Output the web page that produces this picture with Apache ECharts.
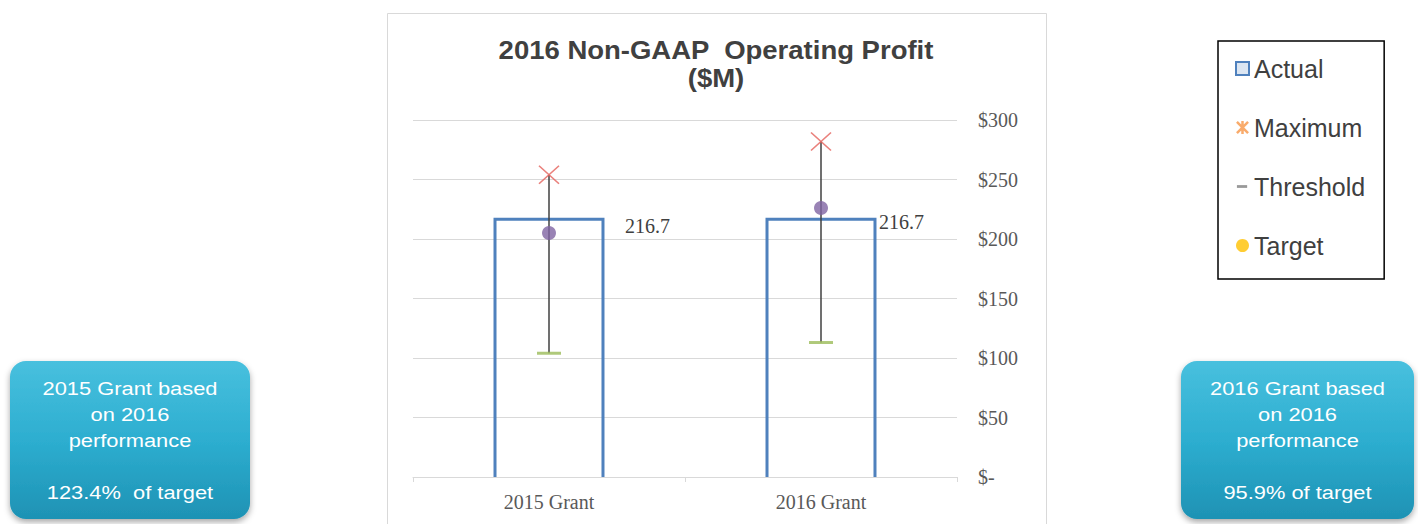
<!DOCTYPE html>
<html>
<head>
<meta charset="utf-8">
<script src="https://cdn.jsdelivr.net/npm/echarts@6/dist/echarts.min.js"></script>
<style>
  html, body { margin: 0; padding: 0; background: #fff; }
  #chart { width: 1418px; height: 524px; }
</style>
</head>
<body>
<div id="chart"></div>
<script>
// Operating profit ($M) per grant
const categories = ['2015 Grant', '2016 Grant'];
const actual = [216.7, 216.7];
const maximum = [254, 282];
const threshold = [104, 113];
const target = [205, 226];
const yTicks = [0, 50, 100, 150, 200, 250, 300];
const seriesNames = ['Actual', 'Maximum', 'Threshold', 'Target'];
const titleLines = ['2016 Non-GAAP  Operating Profit', '($M)'];
const grantNotes = [
  ['2015 Grant based', 'on 2016', 'performance', '', '123.4%  of target'],
  ['2016 Grant based', 'on 2016', 'performance', '', '95.9% of target']
];

const SANS = '"Liberation Sans", Arial, sans-serif';
const SERIF = '"Liberation Serif", "Times New Roman", serif';
const TEXT_GRAY = '#404040';
const AXIS_GRAY = '#595959';
const GRID_GRAY = '#D9D9D9';

// value-label nudges (px) to the right of / below each outlined bar's top corner
const valueLabelShift = [[22, 7], [4, 3]];

const chart = echarts.init(document.getElementById('chart'), null, { renderer: 'svg' });

// open-bottomed outline for the actual value, with its number beside it
function renderActual(params, api) {
  const i = api.value(0);
  const v = api.value(1);
  const top = api.coord([i, v]);
  const base = api.coord([i, 0]);
  const w = api.size([1, 0])[0] * 0.397;
  const x0 = top[0] - w / 2, x1 = top[0] + w / 2;
  const shift = valueLabelShift[i];
  return {
    type: 'group',
    children: [
      {
        type: 'polyline',
        shape: { points: [[x0, base[1]], [x0, top[1]], [x1, top[1]], [x1, base[1]]] },
        style: { stroke: '#4F81BD', lineWidth: 3, fill: null, lineJoin: 'miter' }
      },
      {
        type: 'text',
        style: {
          text: v.toFixed(1), x: x1 + shift[0], y: top[1] + shift[1],
          align: 'left', verticalAlign: 'middle',
          fontFamily: SERIF, fontSize: 20, fill: TEXT_GRAY
        }
      }
    ]
  };
}

// vertical range line from threshold to maximum
function renderRange(params, api) {
  const lo = api.coord([api.value(0), api.value(1)]);
  const hi = api.coord([api.value(0), api.value(2)]);
  return {
    type: 'line',
    shape: { x1: lo[0], y1: lo[1], x2: hi[0], y2: hi[1] },
    style: { stroke: '#404040', lineWidth: 1.5 }
  };
}

function noteBox(x, w, lines) {
  return {
    type: 'group',
    children: [
      {
        type: 'rect',
        shape: { x: x, y: 361, width: w, height: 158, r: 16 },
        style: {
          fill: new echarts.graphic.LinearGradient(0, 0, 0, 1, [
            { offset: 0, color: '#48C0DE' },
            { offset: 0.5, color: '#2DAED0' },
            { offset: 1, color: '#1E92B4' }
          ]),
          shadowBlur: 6, shadowOffsetY: 3, shadowColor: 'rgba(0,0,0,0.35)'
        }
      },
      {
        type: 'text',
        x: x + w / 2, y: 440, scaleX: 1.15,
        style: {
          text: lines.join('\n'), x: 0, y: 0,
          align: 'center', verticalAlign: 'middle', lineHeight: 26,
          fontFamily: SANS, fontSize: 19, fill: '#FFFFFF'
        }
      }
    ]
  };
}

const option = {
  animation: false,
  backgroundColor: '#fff',
  grid: { left: 413, right: 461, top: 120, bottom: 47 },
  xAxis: {
    type: 'category',
    data: categories,
    axisLine: { lineStyle: { color: GRID_GRAY, width: 1 } },
    axisTick: { show: true, length: 5, lineStyle: { color: GRID_GRAY } },
    axisLabel: { margin: 15, fontFamily: SERIF, fontSize: 20, color: AXIS_GRAY },
    splitLine: { show: false }
  },
  yAxis: {
    type: 'value',
    position: 'right',
    min: yTicks[0],
    max: yTicks[yTicks.length - 1],
    interval: yTicks[1] - yTicks[0],
    axisLine: { show: false },
    axisTick: { show: false },
    axisLabel: {
      margin: 21, fontFamily: SERIF, fontSize: 20, color: AXIS_GRAY,
      formatter: v => (v === 0 ? '$-' : '$' + v)
    },
    splitLine: { lineStyle: { color: GRID_GRAY, width: 1 } }
  },
  legend: {
    orient: 'vertical',
    left: 1218, top: 41,
    itemWidth: 13, itemHeight: 13, itemGap: 34, itemTextGap: 3,
    padding: [15, 19, 21, 17],
    borderColor: '#000', borderWidth: 1.5, backgroundColor: '#fff',
    selectedMode: false,
    textStyle: { fontFamily: SANS, fontSize: 25, color: TEXT_GRAY, lineHeight: 25 },
    data: [
      { name: seriesNames[0], icon: 'rect',
        itemStyle: { color: '#DCE6F2', borderColor: '#4F81BD', borderWidth: 2 } },
      { name: seriesNames[1], icon: 'path://M1,1L13,13M13,1L1,13M7,0L7,14',
        itemStyle: { color: 'transparent', borderColor: '#F79646', borderWidth: 2.5 } },
      { name: seriesNames[2], icon: 'path://M0,0M14,14M1,5.5L12,5.5L12,8.5L1,8.5Z',
        itemStyle: { color: '#7F7F7F', borderWidth: 0 } },
      { name: seriesNames[3], icon: 'circle',
        itemStyle: { color: '#FFC000', borderWidth: 0 } }
    ]
  },
  graphic: [
    {
      type: 'rect',
      shape: { x: 387.5, y: 13.5, width: 659, height: 540 },
      style: { fill: null, stroke: GRID_GRAY, lineWidth: 1 },
      silent: true
    },
    {
      type: 'text',
      x: 716, y: 64, scaleX: 1.1,
      style: {
        text: titleLines.join('\n'), x: 0, y: 0,
        align: 'center', verticalAlign: 'middle', lineHeight: 28,
        fontFamily: SANS, fontSize: 25, fontWeight: 'bold', fill: TEXT_GRAY
      }
    },
    noteBox(10, 240, grantNotes[0]),
    noteBox(1181, 233, grantNotes[1])
  ],
  series: [
    {
      name: seriesNames[0],
      type: 'custom',
      renderItem: renderActual,
      data: actual.map((v, i) => [i, v]),
      z: 2
    },
    {
      name: 'range',
      type: 'custom',
      renderItem: renderRange,
      data: threshold.map((v, i) => [i, v, maximum[i]]),
      z: 3
    },
    {
      name: seriesNames[1],
      type: 'scatter',
      symbol: 'path://M0,0L20,18M20,0L0,18',
      symbolSize: [20, 18],
      itemStyle: { color: 'transparent', borderColor: '#E5615B', borderWidth: 1.5 },
      data: maximum.map((v, i) => [i, v]),
      z: 4
    },
    {
      name: seriesNames[2],
      type: 'scatter',
      symbol: 'rect',
      symbolSize: [24, 3],
      itemStyle: { color: '#9BBB59' },
      data: threshold.map((v, i) => [i, v]),
      z: 4
    },
    {
      name: seriesNames[3],
      type: 'scatter',
      symbol: 'circle',
      symbolSize: 14,
      itemStyle: { color: '#8064A2' },
      data: target.map((v, i) => [i, v]),
      z: 5
    }
  ]
};

chart.setOption(option);
</script>
</body>
</html>
